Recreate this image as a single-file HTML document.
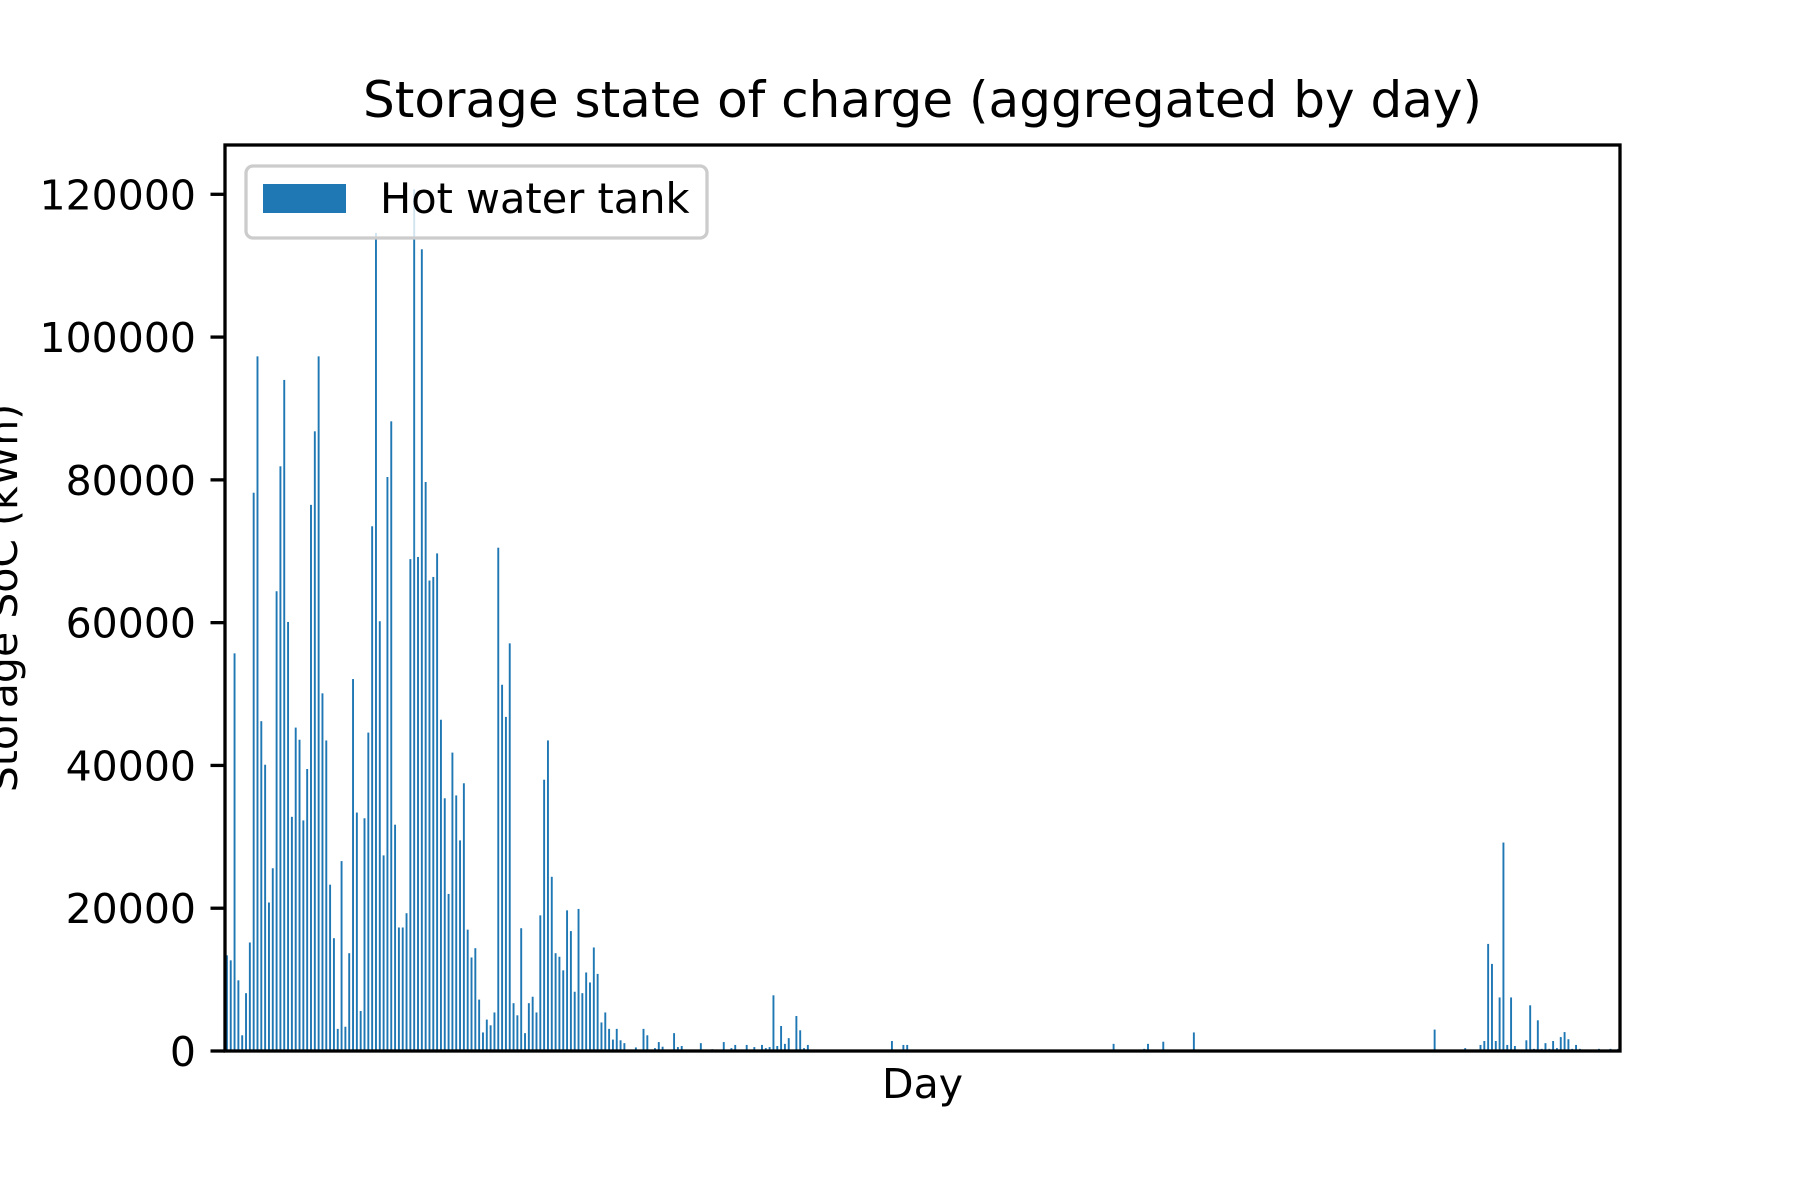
<!DOCTYPE html>
<html><head><meta charset="utf-8"><style>
html,body{margin:0;padding:0;background:#fff;}
svg{display:block;font-family:"DejaVu Sans","Liberation Sans",sans-serif;}
</style></head><body>
<svg id="chart" width="1800" height="1200" viewBox="0 0 1800 1200" xmlns="http://www.w3.org/2000/svg">
<rect x="0" y="0" width="1800" height="1200" fill="#fff"/>
<text x="922.5" y="117" font-size="50" text-anchor="middle" fill="#000">Storage state of charge (aggregated by day)</text>
<g id="bars"></g>
<g id="yaxis"></g>
<rect x="225" y="145" width="1395" height="906" fill="none" stroke="#000" stroke-width="3.3"/>
<text x="922.5" y="1098" font-size="41" text-anchor="middle" fill="#000">Day</text>
<text transform="translate(17,598) rotate(-90)" font-size="41" text-anchor="middle" fill="#000">Storage SoC (kWh)</text>
<g>
<rect x="246" y="166" width="461" height="72" rx="7" fill="#fff" fill-opacity="0.8" stroke="#ccc" stroke-width="3.3"/>
<rect x="263" y="184" width="83" height="29" fill="#1f77b4"/>
<text x="380" y="213" font-size="41.5" fill="#000">Hot water tank</text>
</g>
</svg>
<script>
const yTicks = [0, 20000, 40000, 60000, 80000, 100000, 120000];
const tickLabels = ["0", "20000", "40000", "60000", "80000", "100000", "120000"];
const values = new Array(365).fill(0);
const headValues = [13400,12700,55700,9900,2200,8100,15200,78200,97300,46200,40100,20800,25600,64400,81900,94000,60100,32800,45300,43600,32300,39500,76500,86800,97300,50100,43500,23300,15800,3100,26600,3400,13700,52100,33400,5600,32600,44600,73500,114600,60200,27400,80400,88200,31700,17300,17300,19300,68900,120700,69200,112300,79700,65900,66400,69700,46400,35400,22000,41800,35800,29500,37500,17000,13100,14400,7200,2600,4400,3600,5400,70500,51300,46800,57100,6700,5000,17200,2500,6700,7600,5400,19000,38000,43500,24400,13700,13200,11300,19700,16800,8300,19900,8100,11000,9600,14500,10800,4000,5400,3100,1600,3100,1500,1100,0,0,500,0,3100,2200];
const sparseDays = [112,113,114,117,118,119,121,124,127,130,132,133,136,138,140,141,142,143,144,145,146,147,149,150,151,152,160,174,177,178,232,240,241,245,252,253,254,255,316,324,328,329,330,331,332,333,334,335,336,337,340,341,342,343,344,345,346,347,348,349,350,351,352,353,354,359,362,364];
const sparseValues = [400,1250,600,2500,550,700,150,1100,250,1250,400,850,850,550,850,400,550,7800,700,3500,1000,1800,4900,2900,400,850,150,1400,850,850,1000,300,1000,1300,200,2600,200,200,3000,400,850,1400,15000,12200,1400,7500,29200,850,7500,700,1500,6400,300,4300,300,1100,300,1400,400,1950,2650,1650,300,850,300,300,300,300];
headValues.forEach((v,i)=>{values[i]=v;});
sparseDays.forEach((d,k)=>{values[d]=sparseValues[k];});

const NS="http://www.w3.org/2000/svg";
const L=225,R=1620,T=145,B=1051;
const Y120=194.3;
const n=values.length;
const step=(R-L)/n;
function xScale(i){return L+(i+0.5)*step;}
function yScale(v){return B-v*(B-Y120)/120000;}
const barsG=document.getElementById('bars');
values.forEach((v,i)=>{
  if(v<=0) return;
  const r=document.createElementNS(NS,'rect');
  const w=step*0.5;
  r.setAttribute('x',xScale(i)-w/2);
  r.setAttribute('y',yScale(v));
  r.setAttribute('width',w);
  r.setAttribute('height',B-yScale(v));
  r.setAttribute('fill','#1f77b4');
  
  
  barsG.appendChild(r);
});
const yG=document.getElementById('yaxis');
yTicks.forEach((t,k)=>{
  const y=yScale(t);
  const ln=document.createElementNS(NS,'line');
  ln.setAttribute('x1',L-14.5);ln.setAttribute('x2',L);
  ln.setAttribute('y1',y);ln.setAttribute('y2',y);
  ln.setAttribute('stroke','#000');ln.setAttribute('stroke-width','3.3');
  
  
  yG.appendChild(ln);
  const tx=document.createElementNS(NS,'text');
  tx.setAttribute('x',L-29);tx.setAttribute('y',y+15);
  tx.setAttribute('text-anchor','end');tx.setAttribute('font-size','41');
  tx.textContent=tickLabels[k];
  
  
  yG.appendChild(tx);
});
</script>
</body></html>
